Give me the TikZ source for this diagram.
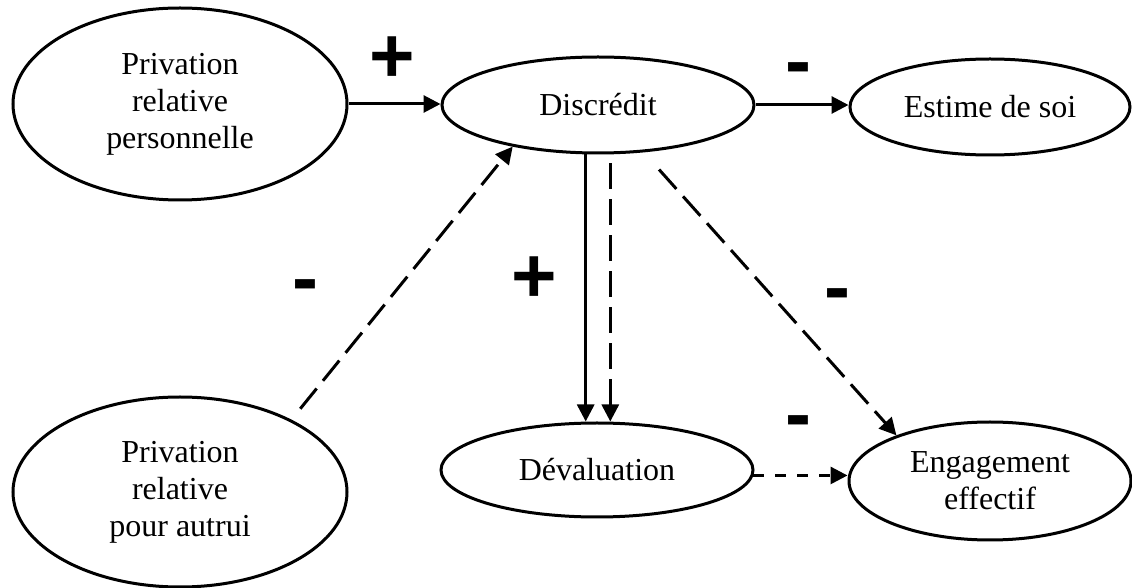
\documentclass[tikz,border=0pt]{standalone}
\usepackage{fontspec}
\setmainfont{Liberation Serif}
\newfontfamily\signfont{Liberation Sans}
\usetikzlibrary{shapes.geometric,arrows.meta}

\tikzset{
  var/.style={ellipse,draw,line width=1.5pt,inner sep=0pt,align=center,
    font=\fontsize{16}{18.5}\selectfont},
  link/.style={line width=1.5pt,-{Triangle[length=8.5pt,width=8.5pt]}},
  longdash/.style={dash pattern=on 13pt off 5pt},
  shortdash/.style={dash pattern=on 5.5pt off 5.5pt},
  sign/.style={font=\signfont\bfseries\fontsize{39}{39}\selectfont,inner sep=0pt}
}

\begin{document}
\begin{tikzpicture}[x=0.5pt,y=-0.5pt]
  \useasboundingbox (0,0) rectangle (1132,588);

  \begin{scope}[every node/.style={var}]
    \node (prp) at (180,104) [minimum width=167pt,minimum height=96pt] {Privation\\relative\\personnelle};
    \node (dis) at (598,105) [minimum width=156pt,minimum height=48pt] {Discrédit};
    \node (est) at (990,107) [minimum width=140pt,minimum height=48pt] {Estime de soi};
    \node (pra) at (180,492) [minimum width=167pt,minimum height=95pt] {Privation\\relative\\pour autrui};
    \node (dev) at (597,470) [minimum width=156pt,minimum height=47pt] {Dévaluation};
    \node (eng) at (990,481) [minimum width=141pt,minimum height=59pt] {Engagement\\effectif};
  \end{scope}

  \begin{scope}[every edge/.style={draw,link}]
    \path (prp.east) edge (prp.east -| dis.west);
    \path (dis.east) edge (dis.east -| est.west);
    \path (dis.256) edge (dis.256 |- dev.north);
    \path (dis.284) edge[longdash,shorten <=4.5pt] (dis.284 |- dev.north);
    \path (pra.33) edge[longdash,shorten <=7pt] (dis.206);
    \path (dis.314) edge[longdash,shorten <=11.5pt] (eng.154);
    \path (dev.-2) edge[shortdash] (dev.-2 -| eng.west);
  \end{scope}

  % signes des liens
  \node[sign] (plus1) at (392,60) {+};
  \node[sign] (minus1) at (798,75) {-};
  \node[sign] (minus2) at (305,292) {-};
  \node[sign] (plus2) at (534,280) {+};
  \node[sign] (minus3) at (837,301) {-};
  \node[sign] (minus4) at (798,428) {-};

\end{tikzpicture}
\end{document}
